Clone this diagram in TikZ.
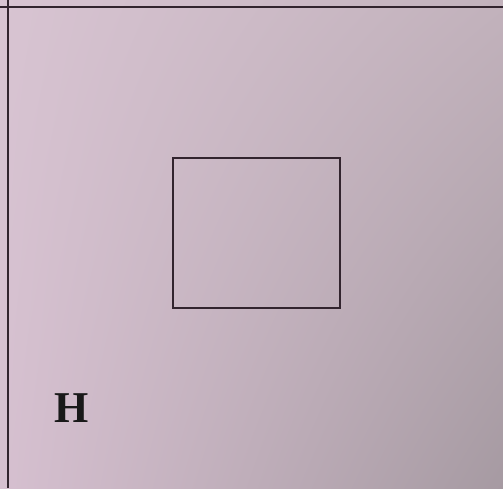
\documentclass[tikz,border=0pt]{standalone}
\usepackage{fontspec}
\setmainfont{Liberation Serif}
\usetikzlibrary{shadings}
\definecolor{ink}{RGB}{50,36,46}
\definecolor{ul}{RGB}{216,196,210}
\definecolor{ur}{RGB}{194,178,188}
\definecolor{ll}{RGB}{214,192,208}
\definecolor{lr}{RGB}{166,154,162}
\tikzset{frameline/.style={draw=ink,line width=1.8pt}}
\begin{document}
\begin{tikzpicture}[x=1pt,y=-1pt]
\useasboundingbox (0,0) rectangle (503,488);
\shade[upper left=ul,upper right=ur,lower left=ll,lower right=lr] (0,0) rectangle (503,488);
\coordinate (tl) at (8,0);
\coordinate (bl) at (8,488);
\coordinate (lt) at (0,7);
\coordinate (rt) at (503,7);
\draw[frameline] (tl) -- (bl);
\draw[frameline] (lt) -- (rt);
\node[frameline,line width=1.5pt,minimum width=167pt,minimum height=150pt,inner sep=0pt] (box) at (256.5,233) {};
\node[font=\bfseries\fontsize{44}{44}\selectfont,text=black!90,inner sep=0pt] (h) at (72,408) {H};
\end{tikzpicture}
\end{document}
